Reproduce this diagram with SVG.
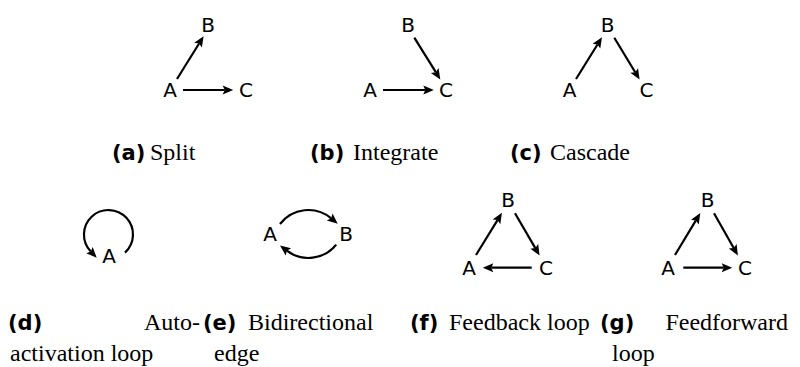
<svg xmlns="http://www.w3.org/2000/svg" width="800" height="367" viewBox="0 0 800 367">
<defs>
<style>
.node{font-family:"DejaVu Sans",sans-serif;font-size:20px;text-anchor:middle;fill:#000}
.e{stroke:#000;stroke-width:2.2;fill:none;marker-end:url(#ah)}
.lbl{font-family:"DejaVu Sans",sans-serif;font-weight:bold;font-size:21px;fill:#000}
.cap{font-family:"Liberation Serif",serif;font-size:24px;fill:#000}
</style>
<marker id="ah" markerUnits="userSpaceOnUse" markerWidth="12" markerHeight="10" refX="2" refY="4.5" orient="auto" overflow="visible"><path d="M0,0 L10.5,4.5 L0,9 L2,4.5 z" fill="#000"/></marker>
</defs>
<rect width="800" height="367" fill="#fff"/>
<g id="connectors">
<path class="e" d="M177,79 L199.1,43.5"/>
<path class="e" d="M183,90 L224.7,90"/>
<path class="e" d="M383,90 L425.3,90"/>
<path class="e" d="M414.3,37.7 L435.8,72.2"/>
<path class="e" d="M576,79 L597.5,44.5"/>
<path class="e" d="M614.3,37.7 L635.2,72.2"/>
<path class="e" d="M125,252.6 A24.5,24.5 0 1 0 90.8,251.5"/>
<path class="e" d="M280,224 A35.7,35.7 0 0 1 331.2,218.3"/>
<path class="e" d="M336.2,244.6 A35.7,35.7 0 0 1 286.8,250.7"/>
<path class="e" d="M476,255 L497.5,220.1"/>
<path class="e" d="M515,213.3 L535.3,248.1"/>
<path class="e" d="M531.7,267.7 L491.3,267.7"/>
<path class="e" d="M675,255 L695.9,220.4"/>
<path class="e" d="M714,213.3 L733.7,248"/>
<path class="e" d="M683.3,267.7 L723.7,267.7"/>
</g>
<g id="a-B"><text class="node" x="208" y="32">B</text></g>
<g id="a-A"><text class="node" x="170" y="97">A</text></g>
<g id="a-C"><text class="node" x="246" y="97">C</text></g>
<g id="b-B"><text class="node" x="408" y="32">B</text></g>
<g id="b-A"><text class="node" x="370" y="97">A</text></g>
<g id="b-C"><text class="node" x="446" y="97">C</text></g>
<g id="c-B"><text class="node" x="607.5" y="32">B</text></g>
<g id="c-A"><text class="node" x="569.5" y="97">A</text></g>
<g id="c-C"><text class="node" x="646.5" y="97">C</text></g>
<g id="d-A"><text class="node" x="109" y="263">A</text></g>
<g id="e-A"><text class="node" x="270" y="241">A</text></g>
<g id="e-B"><text class="node" x="346" y="241">B</text></g>
<g id="f-B"><text class="node" x="508" y="207">B</text></g>
<g id="f-A"><text class="node" x="469" y="275">A</text></g>
<g id="f-C"><text class="node" x="546" y="275">C</text></g>
<g id="g-B"><text class="node" x="707.5" y="207">B</text></g>
<g id="g-A"><text class="node" x="668" y="275">A</text></g>
<g id="g-C"><text class="node" x="745" y="275">C</text></g>
<g id="captions">
<text class="lbl" x="112" y="160">(a)</text><text class="cap" x="150" y="160">Split</text>
<text class="lbl" x="310" y="160">(b)</text><text class="cap" x="353" y="160">Integrate</text>
<text class="lbl" x="510" y="160">(c)</text><text class="cap" x="550" y="160">Cascade</text>
<text class="lbl" x="8" y="330">(d)</text><text class="cap" x="200" y="330" text-anchor="end">Auto-</text>
<text class="cap" x="10" y="361">activation loop</text>
<text class="lbl" x="203" y="330">(e)</text><text class="cap" x="248" y="330">Bidirectional</text>
<text class="cap" x="214" y="361">edge</text>
<text class="lbl" x="410" y="330">(f)</text><text class="cap" x="449" y="330">Feedback loop</text>
<text class="lbl" x="600" y="330">(g)</text><text class="cap" x="788" y="330" text-anchor="end">Feedforward</text>
<text class="cap" x="612" y="361">loop</text>
</g>
</svg>
